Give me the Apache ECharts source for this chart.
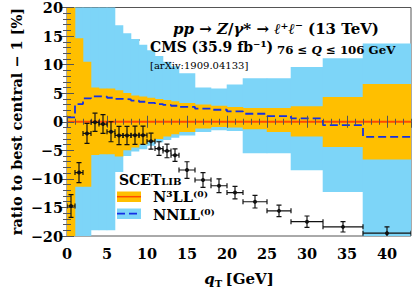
<!DOCTYPE html>
<html><head><meta charset="utf-8">
<script src="https://cdn.jsdelivr.net/npm/echarts@6/dist/echarts.min.js"></script>
<style>html,body{margin:0;padding:0;background:#fff}#c{width:415px;height:291px}</style>
</head><body><div id="c"></div>
<script>
// bin edges in qT [GeV]
const binEdges = [0,1,2,3,4,5,6,7,8,9,10,11,12,13,14,16,18,20,22,25,28,32,37,43];
// N3LL(0) uncertainty band [%]
const n3llUp = [25,14.6,10.5,6.0,5.8,5.8,5.5,5.05,4.6,4.4,4.2,4.0,3.8,3.6,3.3,3.0,2.8,2.6,2.4,2.4,2.7,4.35,6.6];
const n3llLo = [-25,-11.4,-11.4,-5.8,-5.7,-5.7,-6.1,-5.0,-4.5,-4.0,-3.5,-3.0,-2.6,-2.2,-1.8,-1.2,-0.9,-1.0,-1.3,-1.8,-2.6,-4.4,-6.6];
// NNLL(0) uncertainty band [%]
const nnllUp = [25,25,25,25,25,25,16.9,15.5,14.5,13.5,12.5,11.5,10.5,9.7,8.5,6.0,5.8,6.5,7.6,7.6,9.6,11.1,13.7];
const nnllLo = [-25,-25,-25,-19.0,-19.0,-19.0,-8.8,-6.0,-5.2,-4.8,-4.2,-3.6,-3.2,-2.8,-2.4,-1.8,-1.5,-1.6,-5.5,-5.5,-8.5,-12.3,-25];
// NNLL(0) central relative to N3LL(0) central [%]
const nnllCentral = [0.75,3.1,4.1,4.45,4.4,4.2,4.0,3.9,3.7,3.5,3.3,3.1,2.95,2.8,2.6,2.3,2.1,1.8,1.4,1.0,0.6,-0.6,-2.65];
// CMS data [%]
const cmsVal = [-14.75,-8.9,-2.05,-0.1,-0.4,-1.75,-2.4,-2.4,-2.35,-2.35,-3.4,-4.7,-5.1,-5.85,-8.45,-10.2,-11.2,-12.4,-14.0,-15.6,-17.5,-18.4,-19.5];
const cmsErr = [2.0,1.75,1.75,1.6,1.65,1.75,1.6,1.6,1.6,1.6,1.4,1.2,1.2,1.1,1.45,1.3,1.2,1.1,1.1,1.0,1.0,0.9,1.1];
const xTicks = [0,5,10,15,20,25,30,35,40];
const yTicks = [-20,-15,-10,-5,0,5,10,15,20];

const ORANGE = '#FFBF00', BLUE = '#7DD5F8', RED = '#FF4A00', DASH = '#1530E4', INK = '#111';
const FONT = 'DejaVu Serif';

const nb = binEdges.length - 1;
const bandData = (lo, up) => lo.map((v, i) => [binEdges[i], binEdges[i+1], v, up[i]]);
const stepData = arr => arr.map((v, i) => [binEdges[i], v]).concat([[binEdges[nb], arr[nb-1]]]);
const cmsData = cmsVal.map((v, i) => [binEdges[i], binEdges[i+1], v, cmsErr[i]]);

function bandRender(color) {
  return function (params, api) {
    const a = api.coord([api.value(0), api.value(3)]);
    const b = api.coord([api.value(1), api.value(2)]);
    return {type: 'rect', shape: {x: a[0] - 0.3, y: a[1], width: b[0] - a[0] + 0.6, height: b[1] - a[1]},
            style: {fill: color}};
  };
}
function errRender(params, api) {
  const x0 = api.value(0), x1 = api.value(1), v = api.value(2), e = api.value(3);
  const xc = (x0 + x1) / 2;
  const c = api.coord([xc, v]), l = api.coord([x0, v]), r = api.coord([x1, v]);
  const t = api.coord([xc, v + e]), b = api.coord([xc, v - e]);
  const st = {stroke: INK, lineWidth: 1.2};
  const cap = 2.5;
  const ln = (x1_, y1_, x2_, y2_) => ({type: 'line', shape: {x1: x1_, y1: y1_, x2: x2_, y2: y2_}, style: st});
  return {type: 'group', children: [
    ln(l[0], c[1], r[0], c[1]),
    ln(l[0], c[1] - cap, l[0], c[1] + cap),
    ln(r[0], c[1] - cap, r[0], c[1] + cap),
    ln(c[0], t[1], c[0], b[1]),
    ln(c[0] - cap, t[1], c[0] + cap, t[1]),
    ln(c[0] - cap, b[1], c[0] + cap, b[1]),
    {type: 'circle', shape: {cx: c[0], cy: c[1], r: 2}, style: {fill: INK}}
  ]};
}

const axisCol = '#555';
function xAx(pos, major) {
  return {type: 'value', position: pos, min: 0, max: 43, interval: major ? 5 : 1, z: 5,
    axisLine: {show: false}, splitLine: {show: false},
    axisTick: {inside: true, length: major ? 6 : 3, lineStyle: {color: axisCol, width: 1}},
    axisLabel: {show: major && pos === 'bottom', margin: 10, color: '#000', fontFamily: FONT, fontWeight: 'bold', fontSize: 14.5,
      showMaxLabel: false, formatter: v => xTicks.includes(v) ? String(v) : ''}};
}
function yAx(pos, major) {
  return {type: 'value', position: pos, min: -20, max: 20, interval: major ? 5 : 1, z: 5,
    axisLine: {show: false}, splitLine: {show: false},
    axisTick: {inside: true, length: major ? 7 : 4, lineStyle: {color: axisCol, width: 1}},
    axisLabel: {show: major && pos === 'left', margin: 4, color: '#000', fontFamily: FONT, fontWeight: 'bold', fontSize: 14.5,
      formatter: v => yTicks.includes(v) ? (v < 0 ? '\u2212' + (-v) : String(v)) : ''}};
}

const chart = echarts.init(document.getElementById('c'), null, {renderer: 'svg'});
const rich = {
  i: {fontFamily: FONT, fontStyle: 'italic', fontWeight: 'bold', fontSize: 15, color: '#000'},
  r: {fontFamily: FONT, fontWeight: 'bold', fontSize: 15, color: '#000'}
};
chart.setOption({
  animation: false,
  grid: {left: 67, top: 7, width: 344, height: 229, show: true, borderColor: axisCol, borderWidth: 1, backgroundColor: 'transparent'},
  xAxis: [xAx('bottom', true), xAx('bottom', false), xAx('top', true), xAx('top', false)],
  yAxis: [yAx('left', true), yAx('left', false), yAx('right', true), yAx('right', false)],
  series: [
    {type: 'custom', name: 'NNLL band', clip: true, renderItem: bandRender(BLUE), data: bandData(nnllLo, nnllUp), z: 1},
    {type: 'custom', name: 'N3LL band', clip: true, renderItem: bandRender(ORANGE), data: bandData(n3llLo, n3llUp), z: 2},
    {type: 'line', name: 'N3LL', data: binEdges.map(x => [x, 0]), symbol: 'none', clip: true, z: 3,
      lineStyle: {color: RED, width: 2}},
    {type: 'line', name: 'NNLL', data: stepData(nnllCentral), step: 'end', symbol: 'none', clip: true, z: 4,
      lineStyle: {color: DASH, width: 1.8, type: [8, 4]}},
    {type: 'custom', name: 'CMS', clip: true, renderItem: errRender, data: cmsData, z: 6}
  ],
  graphic: [
    {type: 'text', z: 10, x: 16, y: 121.5, rotation: Math.PI / 2,
      style: {text: 'ratio to best central \u2212 1 [%]', align: 'center', verticalAlign: 'middle', fontFamily: FONT, fontWeight: 'bold', fontSize: 14.5, fill: '#000'}},
    {type: 'text', z: 10, x: 239, y: 279,
      style: {text: '{i|q}{s|T} {r|[GeV]}', align: 'center', verticalAlign: 'middle',
        rich: {i: rich.i, r: rich.r, s: {fontFamily: FONT, fontWeight: 'bold', fontSize: 10, color: '#000', padding: [8, 0, 0, 0]}}}},
    {type: 'text', z: 10, x: 173, y: 29,
      style: {text: '{i|pp}{r| \u2192 }{i|Z}{r|/}{i|\u03b3}{r|* \u2192 }{i|\u2113}{r|\u207a}{i|\u2113}{r|\u207b (13 TeV)}',
        verticalAlign: 'middle', rich: rich}},
    {type: 'text', z: 10, x: 150, y: 47,
      style: {text: 'CMS (35.9 fb\u207b\u00b9)', verticalAlign: 'middle', fontFamily: FONT, fontWeight: 'bold', fontSize: 14, fill: '#000'}},
    {type: 'text', z: 10, x: 277, y: 50,
      style: {text: '{r|76 \u2264 }{i|Q}{r| \u2264 106 GeV}', verticalAlign: 'middle',
        rich: {r: {fontFamily: FONT, fontWeight: 'bold', fontSize: 11.8, color: '#000'}, i: {fontFamily: FONT, fontWeight: 'bold', fontStyle: 'italic', fontSize: 11.8, color: '#000'}}}},
    {type: 'text', z: 10, x: 150, y: 65,
      style: {text: '[arXiv:1909.04133]', verticalAlign: 'middle', fontFamily: FONT, fontSize: 10, fill: '#000'}},
    // CMS legend marker
    {type: 'group', z: 10, children: [
      {type: 'line', shape: {x1: 131, y1: 48, x2: 143, y2: 48}, style: {stroke: INK, lineWidth: 1.2}},
      {type: 'line', shape: {x1: 131, y1: 45.5, x2: 131, y2: 50.5}, style: {stroke: INK, lineWidth: 1.2}},
      {type: 'line', shape: {x1: 143, y1: 45.5, x2: 143, y2: 50.5}, style: {stroke: INK, lineWidth: 1.2}},
      {type: 'line', shape: {x1: 137, y1: 40, x2: 137, y2: 57}, style: {stroke: INK, lineWidth: 1.2}},
      {type: 'line', shape: {x1: 134.5, y1: 40, x2: 139.5, y2: 40}, style: {stroke: INK, lineWidth: 1.2}},
      {type: 'line', shape: {x1: 134.5, y1: 57, x2: 139.5, y2: 57}, style: {stroke: INK, lineWidth: 1.2}},
      {type: 'circle', shape: {cx: 137, cy: 48, r: 2}, style: {fill: INK}}
    ]},
    // SCETlib legend
    {type: 'text', z: 10, x: 119, y: 180,
      style: {text: '{a|SCET}{b|LIB}', verticalAlign: 'middle',
        rich: {a: {fontFamily: FONT, fontWeight: 'bold', fontSize: 14, color: '#000'}, b: {fontFamily: FONT, fontWeight: 'bold', fontSize: 10, color: '#000', padding: [2, 0, 0, 0]}}}},
    {type: 'rect', z: 10, shape: {x: 117, y: 191.5, width: 24, height: 10.5}, style: {fill: ORANGE}},
    {type: 'line', z: 11, shape: {x1: 117, y1: 196.7, x2: 141, y2: 196.7}, style: {stroke: RED, lineWidth: 1.5}},
    {type: 'text', z: 10, x: 153, y: 196,
      style: {text: 'N\u00b3LL\u207d\u2070\u207e', verticalAlign: 'middle', fontFamily: FONT, fontWeight: 'bold', fontSize: 14.5, fill: '#000'}},
    {type: 'rect', z: 10, shape: {x: 117, y: 208.5, width: 24, height: 10.5}, style: {fill: BLUE}},
    {type: 'line', z: 11, shape: {x1: 117, y1: 213.7, x2: 141, y2: 213.7}, style: {stroke: DASH, lineWidth: 1.7, lineDash: [8, 4]}},
    {type: 'text', z: 10, x: 153, y: 214,
      style: {text: 'NNLL\u207d\u2070\u207e', verticalAlign: 'middle', fontFamily: FONT, fontWeight: 'bold', fontSize: 14.5, fill: '#000'}}
  ]
});
</script></body></html>
